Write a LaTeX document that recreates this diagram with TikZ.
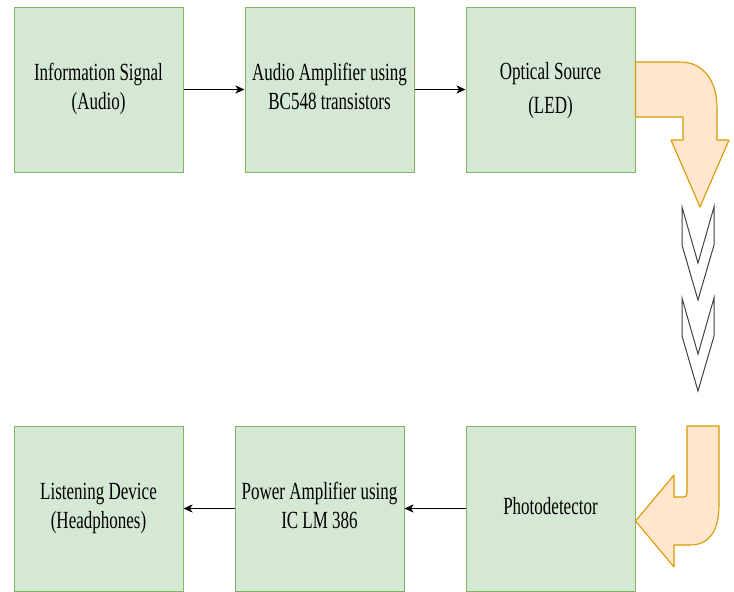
\documentclass[tikz,border=0pt]{standalone}
\usepackage{fontspec}
\usepackage{graphicx}
\setmainfont{Liberation Serif}
\usetikzlibrary{arrows.meta}
\definecolor{boxfill}{HTML}{D5E8D4}
\definecolor{boxdraw}{HTML}{82B366}
\definecolor{bendfill}{HTML}{FFE6CC}
\definecolor{benddraw}{HTML}{D79B00}
\newcommand{\stretchtxt}[2][20]{\scalebox{1}[1.45]{\fontsize{17}{#1}\selectfont\begin{tabular}{@{}c@{}}#2\end{tabular}}}
\tikzset{
  blockbox/.style={draw=boxdraw, fill=boxfill, line width=1pt, minimum width=169pt, minimum height=165pt, inner sep=0pt, align=center},
  flowline/.style={-{Stealth[length=9pt,width=8pt,inset=2.5pt]}, line width=1.7pt, black},
  bendarrow/.style={draw=benddraw, fill=bendfill, line width=1.1pt, line join=round},
  chevron/.style={draw=black!75, fill=white, line width=1pt}
}
\begin{document}
\begin{tikzpicture}[x=1pt,y=-1pt]
\useasboundingbox (0,0) rectangle (734,592);
\node[blockbox] (info) at (98.5,89.5) {\stretchtxt{Information Signal\\(Audio)}};
\node[blockbox] (aamp) at (329.5,89.5) {\stretchtxt{Audio Amplifier using\\BC548 transistors}};
\node[blockbox] (led) at (550.5,89.5) {\stretchtxt[24]{Optical Source\\(LED)}};
\node[blockbox] (listen) at (98.5,508.5) {\stretchtxt{Listening Device\\(Headphones)}};
\node[blockbox] (pamp) at (319.5,508.5) {\stretchtxt{Power Amplifier using\\IC LM 386}};
\node[blockbox] (photo) at (550.5,508.5) {\stretchtxt{Photodetector}};
\draw[flowline] (info) -- (aamp);
\draw[flowline] (aamp) -- (led);
\draw[flowline] (photo) -- (pamp);
\draw[flowline] (pamp) -- (listen);
% top bent arrow
\path[bendarrow] (635.5,62) -- (680,62) .. controls (703,62) and (717,80) .. (717,108) -- (717,140) -- (729,140) -- (700,207) -- (671,140) -- (683,140) -- (683,117) -- (635.5,117) -- cycle;
% chevrons
\path[chevron] (682,207) -- (698,263) -- (714,207) -- (714,245) -- (698,300) -- (682,245) -- cycle;
\path[chevron] (682,298) -- (698,354) -- (714,298) -- (714,336) -- (698,391) -- (682,336) -- cycle;
% bottom bent arrow
\path[bendarrow] (687,426) -- (719,426) -- (719,505) .. controls (719,530) and (710,545) .. (690,545) -- (674,545) -- (674,567) -- (635.5,521) -- (674,475) -- (674,497) -- (683,497) .. controls (686,497) and (687,496) .. (687,493) -- cycle;
\end{tikzpicture}
\end{document}
